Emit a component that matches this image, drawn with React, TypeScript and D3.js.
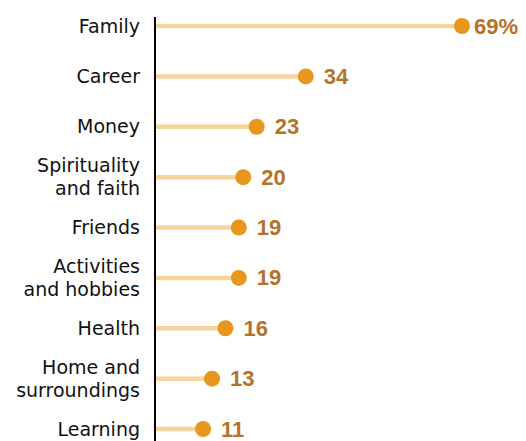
import React from "react";
import * as d3 from "d3";

const categories: string[][] = [
  ["Family"],
  ["Career"],
  ["Money"],
  ["Spirituality", "and faith"],
  ["Friends"],
  ["Activities", "and hobbies"],
  ["Health"],
  ["Home and", "surroundings"],
  ["Learning"],
];
const values: number[] = [69, 34, 23, 20, 19, 19, 16, 13, 11];
const valueLabels: string[] = ["69%", "34", "23", "20", "19", "19", "16", "13", "11"];

const W = 526;
const H = 441;
const FONT = "'DejaVu Sans', sans-serif";
const VFONT = "'Liberation Sans', Arial, sans-serif";

export default function App() {
  const keys = categories.map((c) => c.join(" "));
  const y = d3.scalePoint<string>().domain(keys).range([26, 429]);
  const x = d3.scaleLinear().domain([0, 69]).range([154, 462]);
  const lineH = 23;

  return (
    <svg
      width={W}
      height={H}
      style={{ position: "absolute", left: 0, top: 0, background: "#fff" }}
      fontFamily={FONT}
    >
      {categories.map((lines, i) => {
        const cy = y(keys[i]) as number;
        const v = values[i];
        const startY = cy - ((lines.length - 1) * lineH) / 2 + 6.5;
        return (
          <g key={keys[i]}>
            <line
              x1={x(0)}
              x2={x(v)}
              y1={cy}
              y2={cy}
              stroke="#F6D59C"
              strokeWidth={4.5}
            />
            <circle cx={x(v)} cy={cy} r={8} fill="#E8961E" />
            <text
              x={x(v) + (i === 0 ? 12 : 18)}
              y={cy + 7.5}
              fontSize={22}
              fontWeight="bold"
              fontFamily={VFONT}
              fill="#B5722A"
            >
              {valueLabels[i]}
            </text>
            <text textAnchor="end" fontSize={19} fill="#111">
              {lines.map((l, j) => (
                <tspan key={j} x={140} y={startY + j * lineH}>
                  {l}
                </tspan>
              ))}
            </text>
          </g>
        );
      })}
      <line x1={155} x2={155} y1={17} y2={H} stroke="#000" strokeWidth={2} />
    </svg>
  );
}
